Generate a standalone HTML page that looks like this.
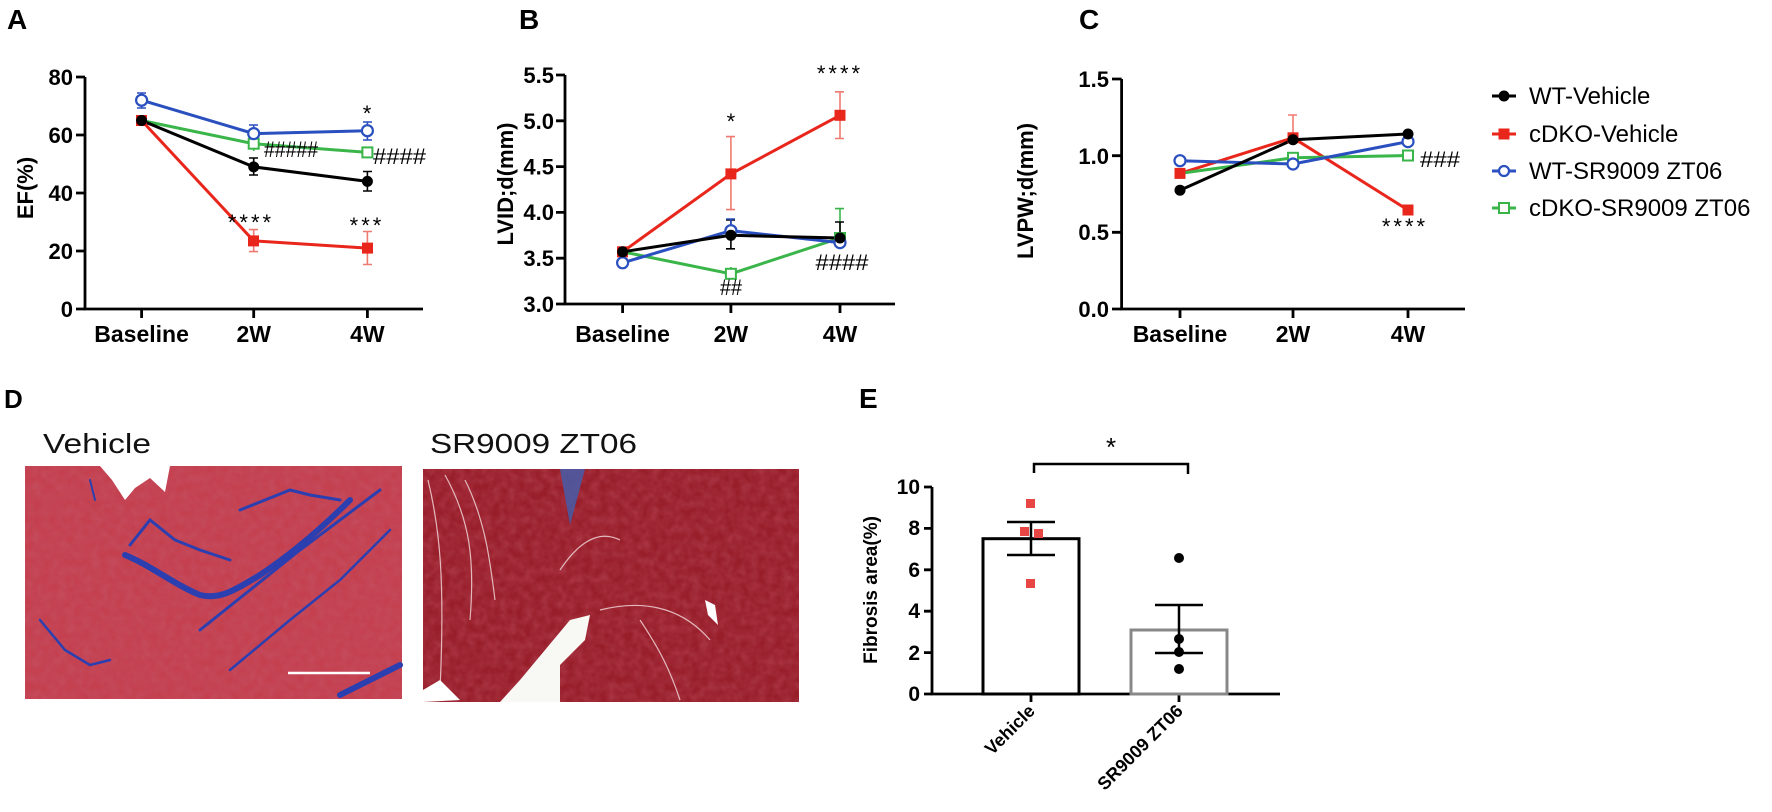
<!DOCTYPE html>
<html><head><meta charset="utf-8"><style>
html,body{margin:0;padding:0;background:#fff;}
svg{display:block;}
text{font-family:"Liberation Sans",Arial,sans-serif;}
.b{font-weight:bold;}
</style></head><body>
<svg width="1772" height="812" viewBox="0 0 1772 812" xmlns="http://www.w3.org/2000/svg">
<defs>
<filter id="tex" x="0" y="0" width="100%" height="100%">
<feTurbulence type="fractalNoise" baseFrequency="0.12" numOctaves="2" seed="3"/>
<feColorMatrix type="matrix" values="0 0 0 0 0.55  0 0 0 0 0.1  0 0 0 0 0.15  0 0 0 -1.2 0.9"/>
</filter>
</defs>
<!-- Panel letters -->
<text x="7" y="29" font-size="28" class="b">A</text>
<text x="519" y="29" font-size="28" class="b">B</text>
<text x="1079" y="29" font-size="28" class="b">C</text>
<text x="4" y="408" font-size="26" class="b">D</text>
<text x="859" y="408" font-size="28" class="b">E</text>

<!-- ===== Panel A ===== -->
<g stroke="#000" stroke-width="2.8" fill="none">
<path d="M85,77 V309 H423"/>
<path d="M76,77H85 M76,135H85 M76,193H85 M76,251H85 M76,309H85"/>
<path d="M141.6,309v9 M253.7,309v9 M367.4,309v9"/>
</g>
<g font-size="22" class="b" text-anchor="end">
<text x="73" y="85">80</text><text x="73" y="143">60</text><text x="73" y="201">40</text><text x="73" y="259">20</text><text x="73" y="317">0</text>
</g>
<g font-size="23" class="b" text-anchor="middle">
<text x="141.6" y="342">Baseline</text><text x="253.7" y="342">2W</text><text x="367.4" y="342">4W</text>
</g>
<text transform="translate(33,188) rotate(-90)" font-size="22" class="b" text-anchor="middle">EF(%)</text>
<g stroke-width="1.6" fill="none">
<path stroke="#2a4fbf" d="M141.6,93v15 M137,93h9 M137,108h9 M253.7,125v17 M249,125h9 M249,142h9 M367.4,122v18 M363,122h9 M363,140h9"/>
<path stroke="#000" d="M253.7,158v17 M249,158h9 M249,175h9 M367.4,171.5v19.5 M363,171.5h9 M363,191h9"/>
<path stroke="#ef7a70" d="M253.7,229.6v22 M249,229.6h9 M249,251.6h9 M367.4,231.5v33 M363,231.5h9 M363,264.5h9"/>
<path stroke="#3ab54a" d="M253.7,138v13 M367.4,148v9"/>
</g>
<polyline points="141.6,120.5 253.7,240.9 367.4,248.1" stroke="#e8261c" stroke-width="3" fill="none"/>
<polyline points="141.6,120.5 253.7,143.7 367.4,152.4" stroke="#3ab54a" stroke-width="3" fill="none"/>
<polyline points="141.6,120.5 253.7,166.9 367.4,181.4" stroke="#000" stroke-width="3" fill="none"/>
<polyline points="141.6,100.2 253.7,133.6 367.4,130.7" stroke="#2a4fbf" stroke-width="3" fill="none"/>
<g fill="#e8261c"><rect x="136" y="115" width="11" height="11"/><rect x="248" y="235.4" width="11" height="11"/><rect x="362" y="242.6" width="11" height="11"/></g>
<g fill="#fff" stroke="#3ab54a" stroke-width="2"><rect x="248.7" y="138.7" width="10" height="10"/><rect x="362.4" y="147.4" width="10" height="10"/></g>
<g fill="#000"><circle cx="141.6" cy="120.5" r="5.5"/><circle cx="253.7" cy="166.9" r="5.5"/><circle cx="367.4" cy="181.4" r="5.5"/></g>
<g fill="#fff" stroke="#2a4fbf" stroke-width="2.2"><circle cx="141.6" cy="100.2" r="5.5"/><circle cx="253.7" cy="133.6" r="5.5"/><circle cx="367.4" cy="130.7" r="5.5"/></g>
<g font-size="22" fill="#000">
<text x="367" y="121" text-anchor="middle">*</text>
<text x="251" y="230" text-anchor="middle" letter-spacing="3">****</text>
<text x="367" y="233" text-anchor="middle" letter-spacing="3">***</text>
<text x="264" y="157" textLength="54" lengthAdjust="spacingAndGlyphs">#####</text>
<text x="373" y="164" textLength="53" lengthAdjust="spacingAndGlyphs">####</text>
</g>

<!-- ===== Panel B ===== -->
<g stroke="#000" stroke-width="2.8" fill="none">
<path d="M565,75 V304 H895"/>
<path d="M556,75H565 M556,120.8H565 M556,166.6H565 M556,212.4H565 M556,258.2H565 M556,304H565"/>
<path d="M622.6,304v9 M730.9,304v9 M840,304v9"/>
</g>
<g font-size="22" class="b" text-anchor="end">
<text x="554" y="83">5.5</text><text x="554" y="129">5.0</text><text x="554" y="174.6">4.5</text><text x="554" y="220">4.0</text><text x="554" y="266">3.5</text><text x="554" y="312">3.0</text>
</g>
<g font-size="23" class="b" text-anchor="middle">
<text x="622.6" y="342">Baseline</text><text x="730.9" y="342">2W</text><text x="840" y="342">4W</text>
</g>
<text transform="translate(513,184) rotate(-90)" font-size="22" class="b" text-anchor="middle">LVID;d(mm)</text>
<g stroke-width="1.6" fill="none">
<path stroke="#ef7a70" d="M730.9,136.6v73 M726,136.6h9 M726,209.6h9 M840,91.8v46.7 M835,91.8h9 M835,138.5h9"/>
<path stroke="#3ab54a" d="M840,208.6v29 M835,208.6h9 M730.9,267v7"/>
<path stroke="#000" d="M730.9,220v28.8 M726,220h9 M726,248.8h9 M840,222v23 M835,222h9"/>
<path stroke="#2a4fbf" d="M730.9,219v12 M726,219h9"/>
</g>
<polyline points="622.6,251.8 730.9,173.9 840,115.3" stroke="#e8261c" stroke-width="3" fill="none"/>
<polyline points="622.6,251.8 730.9,273.8 840,238" stroke="#3ab54a" stroke-width="3" fill="none"/>
<polyline points="622.6,262.8 730.9,230.7 840,242.6" stroke="#2a4fbf" stroke-width="3" fill="none"/>
<polyline points="622.6,251.8 730.9,235.3 840,238" stroke="#000" stroke-width="3" fill="none"/>
<g fill="#e8261c"><rect x="617" y="246.3" width="11" height="11"/><rect x="725.4" y="168.4" width="11" height="11"/><rect x="834.5" y="109.8" width="11" height="11"/></g>
<g fill="#fff" stroke="#3ab54a" stroke-width="2"><rect x="725.9" y="268.8" width="10" height="10"/><rect x="835" y="233" width="10" height="10"/></g>
<g fill="#fff" stroke="#2a4fbf" stroke-width="2.2"><circle cx="622.6" cy="262.8" r="5.5"/><circle cx="730.9" cy="230.7" r="5.5"/><circle cx="840" cy="242.6" r="5.5"/></g>
<g fill="#000"><circle cx="622.6" cy="251.8" r="5.5"/><circle cx="730.9" cy="235.3" r="5.5"/><circle cx="840" cy="238" r="5.5"/></g>
<g font-size="22" fill="#000" text-anchor="middle">
<text x="730.9" y="129">*</text>
<text x="840" y="81" letter-spacing="3">****</text>
<text x="731" y="295" textLength="22" lengthAdjust="spacingAndGlyphs">##</text>
<text x="842" y="270" textLength="53" lengthAdjust="spacingAndGlyphs">####</text>
</g>

<!-- ===== Panel C ===== -->
<g stroke="#000" stroke-width="2.8" fill="none">
<path d="M1121.6,79 V309 H1465"/>
<path d="M1112,79H1121.6 M1112,155.7H1121.6 M1112,232.3H1121.6 M1112,309H1121.6"/>
<path d="M1180,309v9 M1293,309v9 M1408,309v9"/>
</g>
<g font-size="22" class="b" text-anchor="end">
<text x="1109" y="87">1.5</text><text x="1109" y="164">1.0</text><text x="1109" y="240">0.5</text><text x="1109" y="317">0.0</text>
</g>
<g font-size="23" class="b" text-anchor="middle">
<text x="1180" y="342">Baseline</text><text x="1293" y="342">2W</text><text x="1408" y="342">4W</text>
</g>
<text transform="translate(1033,191) rotate(-90)" font-size="22" class="b" text-anchor="middle">LVPW;d(mm)</text>
<g stroke-width="1.6" fill="none">
<path stroke="#ef7a70" d="M1293,115v25 M1288,115h9"/>
<path stroke="#000" d="M1408,130v9"/>
</g>
<polyline points="1180,173.4 1293,137.8 1408,210" stroke="#e8261c" stroke-width="3" fill="none"/>
<polyline points="1180,173.4 1293,157.8 1408,155.5" stroke="#3ab54a" stroke-width="3" fill="none"/>
<polyline points="1180,160.7 1293,164 1408,141.6" stroke="#2a4fbf" stroke-width="3" fill="none"/>
<polyline points="1180,190.2 1293,139.7 1408,134" stroke="#000" stroke-width="3" fill="none"/>
<g fill="#e8261c"><rect x="1174.5" y="167.9" width="11" height="11"/><rect x="1287.5" y="132.3" width="11" height="11"/><rect x="1402.5" y="204.5" width="11" height="11"/></g>
<g fill="#fff" stroke="#3ab54a" stroke-width="2"><rect x="1288" y="152.8" width="10" height="10"/><rect x="1403" y="150.5" width="10" height="10"/></g>
<g fill="#fff" stroke="#2a4fbf" stroke-width="2.2"><circle cx="1180" cy="160.7" r="5.5"/><circle cx="1293" cy="164" r="5.5"/><circle cx="1408" cy="141.6" r="5.5"/></g>
<g fill="#000"><circle cx="1180" cy="190.2" r="5.5"/><circle cx="1293" cy="139.7" r="5.5"/><circle cx="1408" cy="134" r="5.5"/></g>
<g font-size="22" fill="#000">
<text x="1405" y="234" text-anchor="middle" letter-spacing="3">****</text>
<text x="1420" y="167" textLength="40" lengthAdjust="spacingAndGlyphs">###</text>
</g>

<!-- Legend -->
<g stroke-width="3">
<line x1="1492" y1="96" x2="1516" y2="96" stroke="#000"/><circle cx="1504" cy="96" r="5.5" fill="#000"/>
<line x1="1492" y1="134" x2="1516" y2="134" stroke="#e8261c"/><rect x="1498.5" y="128.5" width="11" height="11" fill="#e8261c"/>
<line x1="1492" y1="171" x2="1516" y2="171" stroke="#2a4fbf"/><circle cx="1504" cy="171" r="5" fill="#fff" stroke="#2a4fbf" stroke-width="2.2"/>
<line x1="1492" y1="208" x2="1516" y2="208" stroke="#3ab54a"/><rect x="1499" y="203" width="10" height="10" fill="#fff" stroke="#3ab54a" stroke-width="2"/>
</g>
<g font-size="24" fill="#000">
<text x="1529" y="104">WT-Vehicle</text>
<text x="1529" y="142">cDKO-Vehicle</text>
<text x="1529" y="179">WT-SR9009 ZT06</text>
<text x="1529" y="216">cDKO-SR9009 ZT06</text>
</g>

<!-- ===== Panel D ===== -->
<text x="43" y="453" font-size="28" fill="#111" textLength="108" lengthAdjust="spacingAndGlyphs">Vehicle</text>
<text x="430" y="453" font-size="28" fill="#111" textLength="207" lengthAdjust="spacingAndGlyphs">SR9009 ZT06</text>
<!-- vehicle image -->
<rect x="25" y="466" width="377" height="233" fill="#c4404f"/>
<rect x="25" y="466" width="377" height="233" filter="url(#tex)" opacity="0.6"/>
<path d="M100,466 L112,480 L125,500 L135,488 L150,478 L165,492 L170,466 Z" fill="#fff"/>
<g stroke="#2b3fb0" fill="none" stroke-linecap="round">
<path d="M125,555 C150,565 175,585 200,595 C220,600 235,590 260,575 C290,555 320,530 350,500" stroke-width="6"/>
<path d="M130,545 L150,520 L175,540 L200,550 L230,560" stroke-width="3"/>
<path d="M240,510 L265,500 L290,490 L310,495 L340,500" stroke-width="3"/>
<path d="M200,630 L250,590 L300,550 L380,490" stroke-width="3"/>
<path d="M230,670 L290,620 L340,580 L390,530" stroke-width="2.5"/>
<path d="M40,620 L65,650 L90,665 L110,660" stroke-width="2.5"/>
<path d="M340,695 L370,680 L400,665" stroke-width="6"/>
<path d="M90,480 L95,500" stroke-width="2"/>
</g>
<line x1="288" y1="673" x2="370" y2="673" stroke="#fff" stroke-width="2.5"/>
<!-- SR image -->
<rect x="423" y="469" width="376" height="233" fill="#981e2a"/>
<rect x="423" y="469" width="376" height="233" filter="url(#tex)" opacity="0.5"/>
<g stroke="#f3dede" fill="none" stroke-width="1.2" opacity="0.8">
<path d="M428,480 C440,530 445,580 440,690"/>
<path d="M445,475 C470,520 475,560 470,620"/>
<path d="M465,480 C485,520 490,560 495,600"/>
<path d="M560,570 C580,540 600,530 620,540"/>
<path d="M600,610 C640,600 680,605 710,640"/>
<path d="M680,700 C670,670 660,650 640,620"/>
</g>
<path d="M423,690 L440,680 L460,700 L423,702 Z" fill="#fff"/>
<path d="M500,702 L520,680 L545,650 L570,620 L590,615 L585,640 L560,665 L560,702 Z" fill="#f8f8f4"/>
<path d="M705,600 L715,605 L718,625 L708,615 Z" fill="#fff"/>
<path d="M560,469 L585,469 L570,525 Z" fill="#4060b0" opacity="0.8"/>

<!-- ===== Panel E ===== -->
<g stroke="#000" stroke-width="2.8" fill="none">
<path d="M932,487 V694 H1280"/>
<path d="M924,487H932 M924,528.4H932 M924,569.8H932 M924,611.2H932 M924,652.6H932 M924,694H932"/>
<path d="M1031,694v8 M1179,694v8"/>
</g>
<g font-size="21" class="b" text-anchor="end">
<text x="920" y="494">10</text><text x="920" y="535">8</text><text x="920" y="577">6</text><text x="920" y="618">4</text><text x="920" y="660">2</text><text x="920" y="701">0</text>
</g>
<text transform="translate(877,590) rotate(-90)" font-size="19" class="b" text-anchor="middle">Fibrosis area(%)</text>
<rect x="983" y="538.7" width="96" height="155.3" fill="#fff" stroke="#000" stroke-width="3"/>
<rect x="1131" y="630" width="96" height="64" fill="#fff" stroke="#888" stroke-width="3"/>
<g stroke="#000" stroke-width="2.5" fill="none">
<path d="M1031,522v33 M1007,522h48 M1007,555h48"/>
<path d="M1179,605v48 M1155,605h48 M1155,653h48"/>
<path d="M1034,473v-9 H1188 v10"/>
</g>
<g fill="#e84545"><rect x="1026" y="499" width="9" height="9"/><rect x="1020" y="527" width="9" height="9"/><rect x="1034" y="529" width="9" height="9"/><rect x="1026" y="579" width="9" height="9"/></g>
<g fill="#000"><circle cx="1179" cy="558" r="5"/><circle cx="1179" cy="639" r="5"/><circle cx="1179" cy="652" r="5"/><circle cx="1179" cy="669" r="5"/></g>
<text x="1111" y="456" font-size="26" text-anchor="middle">*</text>
<text transform="translate(1036,712) rotate(-45)" font-size="18" class="b" text-anchor="end">Vehicle</text>
<text transform="translate(1184,712) rotate(-45)" font-size="18" class="b" text-anchor="end">SR9009 ZT06</text>
</svg>
</body></html>
